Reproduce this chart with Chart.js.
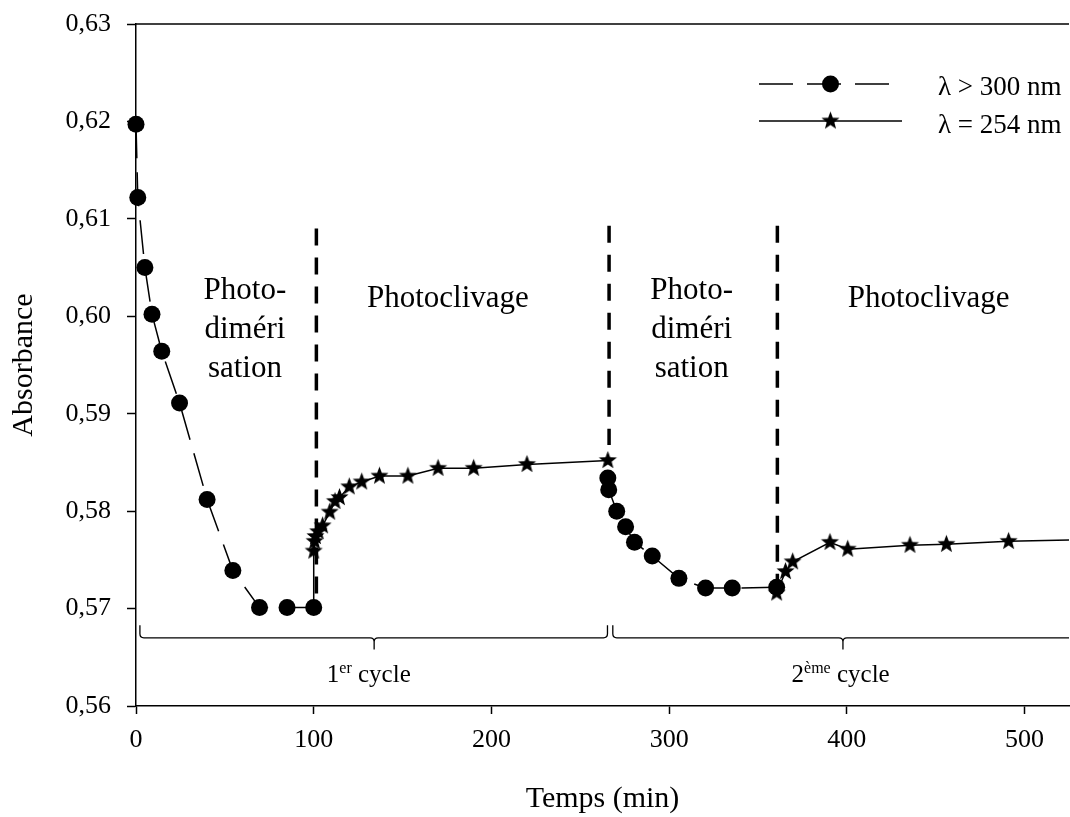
<!DOCTYPE html>
<html><head><meta charset="utf-8">
<script src="https://cdn.jsdelivr.net/npm/chart.js@4/dist/chart.umd.min.js"></script>
<style>html,body{margin:0;padding:0;background:#fff}</style>
</head><body>
<canvas id="c" width="1070" height="817" style="display:block;width:1070px;height:817px"></canvas>
<script>
// ---- data (time in min, absorbance) ----
const circT1 = [0, 1, 5, 9, 14.5, 24.5, 40, 54.5, 69.5, 85, 100];
const circA1 = [0.6197, 0.6122, 0.6050, 0.6002, 0.5964, 0.5911, 0.5812, 0.5739, 0.5701, 0.5701, 0.5701];
const starT1 = [100, 100, 100.5, 101, 102.5, 105, 109, 112, 114.5, 120, 127, 137, 153, 170, 190, 220, 265.5];
const starA1 = [0.5701, 0.5759, 0.5769, 0.5774, 0.5779, 0.5785, 0.5799, 0.5810, 0.5814, 0.5825, 0.5830, 0.5836, 0.5836, 0.5844, 0.5844, 0.5848, 0.5852];
const circT2 = [265.5, 266, 270.5, 275.5, 280.5, 290.5, 305.5, 320.5, 335.5, 360.5];
const circA2 = [0.5834, 0.5822, 0.5800, 0.5784, 0.5768, 0.5754, 0.5731, 0.5721, 0.5721, 0.5722];
const starT2 = [360.5, 365.5, 369.5, 390.5, 400.5, 435.5, 456, 491, 545];
const starA2 = [0.5716, 0.5738, 0.5748, 0.5768, 0.5761, 0.5765, 0.5766, 0.5769, 0.5771];

const xTickValues = [0, 100, 200, 300, 400, 500];
const yTickValues = [0.56, 0.57, 0.58, 0.59, 0.60, 0.61, 0.62, 0.63];

const dividerT = [101.5, 266.2, 360.9];
const dividerTop = [0.6090, 0.6093, 0.6093];
const dividerBottom = [0.5702, 0.5868, 0.5725];

const seriesLabels = ['\u03bb > 300 nm', '\u03bb = 254 nm'];
const phaseLabels = ['Photo-', 'dim\u00e9ri', 'sation'];
const cleavageLabel = 'Photoclivage';
const cycleLabels = [['1', 'er', ' cycle'], ['2', '\u00e8me', ' cycle']];

const FONT = "'Liberation Serif', 'Times New Roman', serif";

function pts(t, a) { return t.map((v, i) => ({x: v, y: a[i]})); }

// filled 5-point star marker
function makeStar(R) {
  const s = Math.ceil(R * 2 + 4);
  const cv = document.createElement('canvas');
  cv.width = s; cv.height = s;
  const g = cv.getContext('2d');
  const c = s / 2, r = R * 0.42;
  g.beginPath();
  for (let i = 0; i < 10; i++) {
    const rad = i % 2 === 0 ? R : r;
    const ang = -Math.PI / 2 + i * Math.PI / 5;
    const px = c + rad * Math.cos(ang), py = c + rad * Math.sin(ang);
    if (i === 0) g.moveTo(px, py); else g.lineTo(px, py);
  }
  g.closePath();
  g.fillStyle = '#000';
  g.fill();
  return cv;
}
const starImg = makeStar(9.5);

const clipOpt = {left: 20, top: 20, right: 0, bottom: 20};

const circleDs = (t, a) => ({
  data: pts(t, a), borderColor: '#000', borderWidth: 1.5, borderDash: [34, 14],
  pointStyle: 'circle', pointRadius: 8.5, pointBorderWidth: 0, pointBackgroundColor: '#000',
  pointHoverRadius: 8.5, tension: 0, fill: false, clip: clipOpt
});
const starDs = (t, a, hideFirst) => ({
  data: pts(t, a), borderColor: '#000', borderWidth: 1.5,
  pointStyle: starImg, pointRadius: c => (hideFirst && c.dataIndex === 0) ? 0 : 10,
  pointHoverRadius: 10, tension: 0, fill: false, clip: clipOpt
});

function brace(ctx, x0, x1, xm, yLine, yTop, yTip, r) {
  ctx.beginPath();
  ctx.moveTo(x0, yTop);
  ctx.lineTo(x0, yLine - r);
  ctx.quadraticCurveTo(x0, yLine, x0 + r, yLine);
  ctx.lineTo(xm - r, yLine);
  ctx.quadraticCurveTo(xm, yLine, xm, yLine + r);
  ctx.lineTo(xm, yTip);
  ctx.moveTo(xm, yLine + r);
  ctx.quadraticCurveTo(xm, yLine, xm + r, yLine);
  ctx.lineTo(x1 - r, yLine);
  ctx.quadraticCurveTo(x1, yLine, x1, yLine - r);
  ctx.lineTo(x1, yTop);
  ctx.stroke();
}

const decor = {
  id: 'decor',
  beforeDatasetsDraw(chart) {
    const {ctx, scales: {x, y}, chartArea: ca} = chart;
    ctx.save();
    // top frame line
    ctx.strokeStyle = '#000'; ctx.lineWidth = 1.5;
    ctx.beginPath(); ctx.moveTo(ca.left, ca.top); ctx.lineTo(ca.right, ca.top); ctx.stroke();
    // dashed phase dividers
    ctx.lineWidth = 3.5; ctx.setLineDash([17, 12]);
    dividerT.forEach((t, i) => {
      const px = x.getPixelForValue(t);
      ctx.beginPath();
      ctx.moveTo(px, y.getPixelForValue(dividerTop[i]));
      ctx.lineTo(px, y.getPixelForValue(dividerBottom[i]));
      ctx.stroke();
    });
    ctx.setLineDash([]);
    // braces
    ctx.save();
    ctx.beginPath(); ctx.rect(ca.left, ca.top, ca.right - ca.left, ca.bottom - ca.top); ctx.clip();
    ctx.lineWidth = 1.3;
    const yl = y.getPixelForValue(0.5670), yt = y.getPixelForValue(0.5683), yp = y.getPixelForValue(0.5658);
    brace(ctx, x.getPixelForValue(2.2), x.getPixelForValue(265.3), x.getPixelForValue(134), yl, yt, yp, 4);
    brace(ctx, x.getPixelForValue(268.3), x.getPixelForValue(560), x.getPixelForValue(397.8), yl, yt, yp, 4);
    ctx.restore();
    ctx.restore();
  },
  afterDraw(chart) {
    const {ctx, scales: {x, y}} = chart;
    ctx.save();
    ctx.fillStyle = '#000';
    ctx.textAlign = 'center'; ctx.textBaseline = 'alphabetic';
    ctx.font = '31px ' + FONT;
    const lineY = [0.60177, 0.59777, 0.59377];
    [61.3, 312.7].forEach(cx => {
      phaseLabels.forEach((s, i) => ctx.fillText(s, x.getPixelForValue(cx), y.getPixelForValue(lineY[i])));
    });
    [175.5, 446].forEach(cx => ctx.fillText(cleavageLabel, x.getPixelForValue(cx), y.getPixelForValue(0.60095)));
    // cycle labels with superscripts
    ctx.textAlign = 'left';
    [131, 396.5].forEach((cx, i) => {
      const [a, sup, b] = cycleLabels[i];
      ctx.font = '25px ' + FONT; const wa = ctx.measureText(a).width, wb = ctx.measureText(b).width;
      ctx.font = '16px ' + FONT; const ws = ctx.measureText(sup).width;
      const tot = wa + ws + wb;
      let px = x.getPixelForValue(cx) - tot / 2;
      const by = y.getPixelForValue(0.5625);
      ctx.font = '25px ' + FONT; ctx.fillText(a, px, by); px += wa;
      ctx.font = '16px ' + FONT; ctx.fillText(sup, px, by - 9); px += ws;
      ctx.font = '25px ' + FONT; ctx.fillText(b, px, by);
    });
    // legend
    const rows = [{ly: 84, ty: 95, dash: [34, 14], circle: true}, {ly: 121, ty: 133, dash: [], circle: false}];
    rows.forEach((r, i) => {
      ctx.strokeStyle = '#000'; ctx.lineWidth = 1.5; ctx.setLineDash(r.dash);
      ctx.beginPath(); ctx.moveTo(759, r.ly); ctx.lineTo(902, r.ly); ctx.stroke();
      ctx.setLineDash([]);
      if (r.circle) { ctx.beginPath(); ctx.arc(830.5, r.ly, 8.5, 0, Math.PI * 2); ctx.fill(); }
      else { ctx.drawImage(starImg, 830.5 - starImg.width / 2, r.ly - starImg.height / 2); }
      ctx.font = '27px ' + FONT; ctx.textAlign = 'left';
      ctx.fillText(seriesLabels[i], 938, r.ty);
    });
    ctx.restore();
  }
};

new Chart(document.getElementById('c'), {
  type: 'line',
  data: {
    datasets: [
      circleDs(circT1, circA1),
      starDs(starT1, starA1, true),
      circleDs(circT2, circA2),
      starDs(starT2, starA2, false)
    ]
  },
  options: {
    responsive: false, devicePixelRatio: 1, animation: false,
    layout: {autoPadding: false, padding: {top: 24, right: 1, left: 0, bottom: 0}},
    plugins: {legend: {display: false}, tooltip: {enabled: false}},
    scales: {
      x: {
        type: 'linear', min: 0, max: 525,
        afterBuildTicks: s => { s.ticks = xTickValues.map(v => ({value: v})); },
        afterFit: s => { s.height = 111; s.paddingLeft = 0; s.paddingRight = 0; s.paddingTop = 0; s.paddingBottom = 0; },
        border: {display: true, color: '#000', width: 1.5},
        grid: {drawOnChartArea: false, drawTicks: true, tickLength: 8, tickWidth: 1.5, tickColor: '#000'},
        ticks: {color: '#000', font: {family: FONT, size: 26}, padding: 11, maxRotation: 0,
                callback: v => String(v)},
        title: {display: true, text: 'Temps (min)', color: '#000', font: {family: FONT, size: 30}, padding: {top: 0, bottom: 0}}
      },
      y: {
        type: 'linear', min: 0.56, max: 0.63,
        afterBuildTicks: s => { s.ticks = yTickValues.map(v => ({value: v})); },
        afterFit: s => { s.width = 136; s.paddingLeft = 0; s.paddingRight = 0; s.paddingTop = 0; s.paddingBottom = 0; },
        border: {display: true, color: '#000', width: 1.5},
        grid: {drawOnChartArea: false, drawTicks: true, tickLength: 9, tickWidth: 1.5, tickColor: '#000'},
        ticks: {color: '#000', font: {family: FONT, size: 26}, padding: 16,
                callback: v => Number(v).toFixed(2).replace('.', ',')},
        title: {display: true, text: 'Absorbance', color: '#000', font: {family: FONT, size: 30}, padding: {top: 6, bottom: 0}}
      }
    }
  },
  plugins: [decor]
});
</script>
</body></html>
